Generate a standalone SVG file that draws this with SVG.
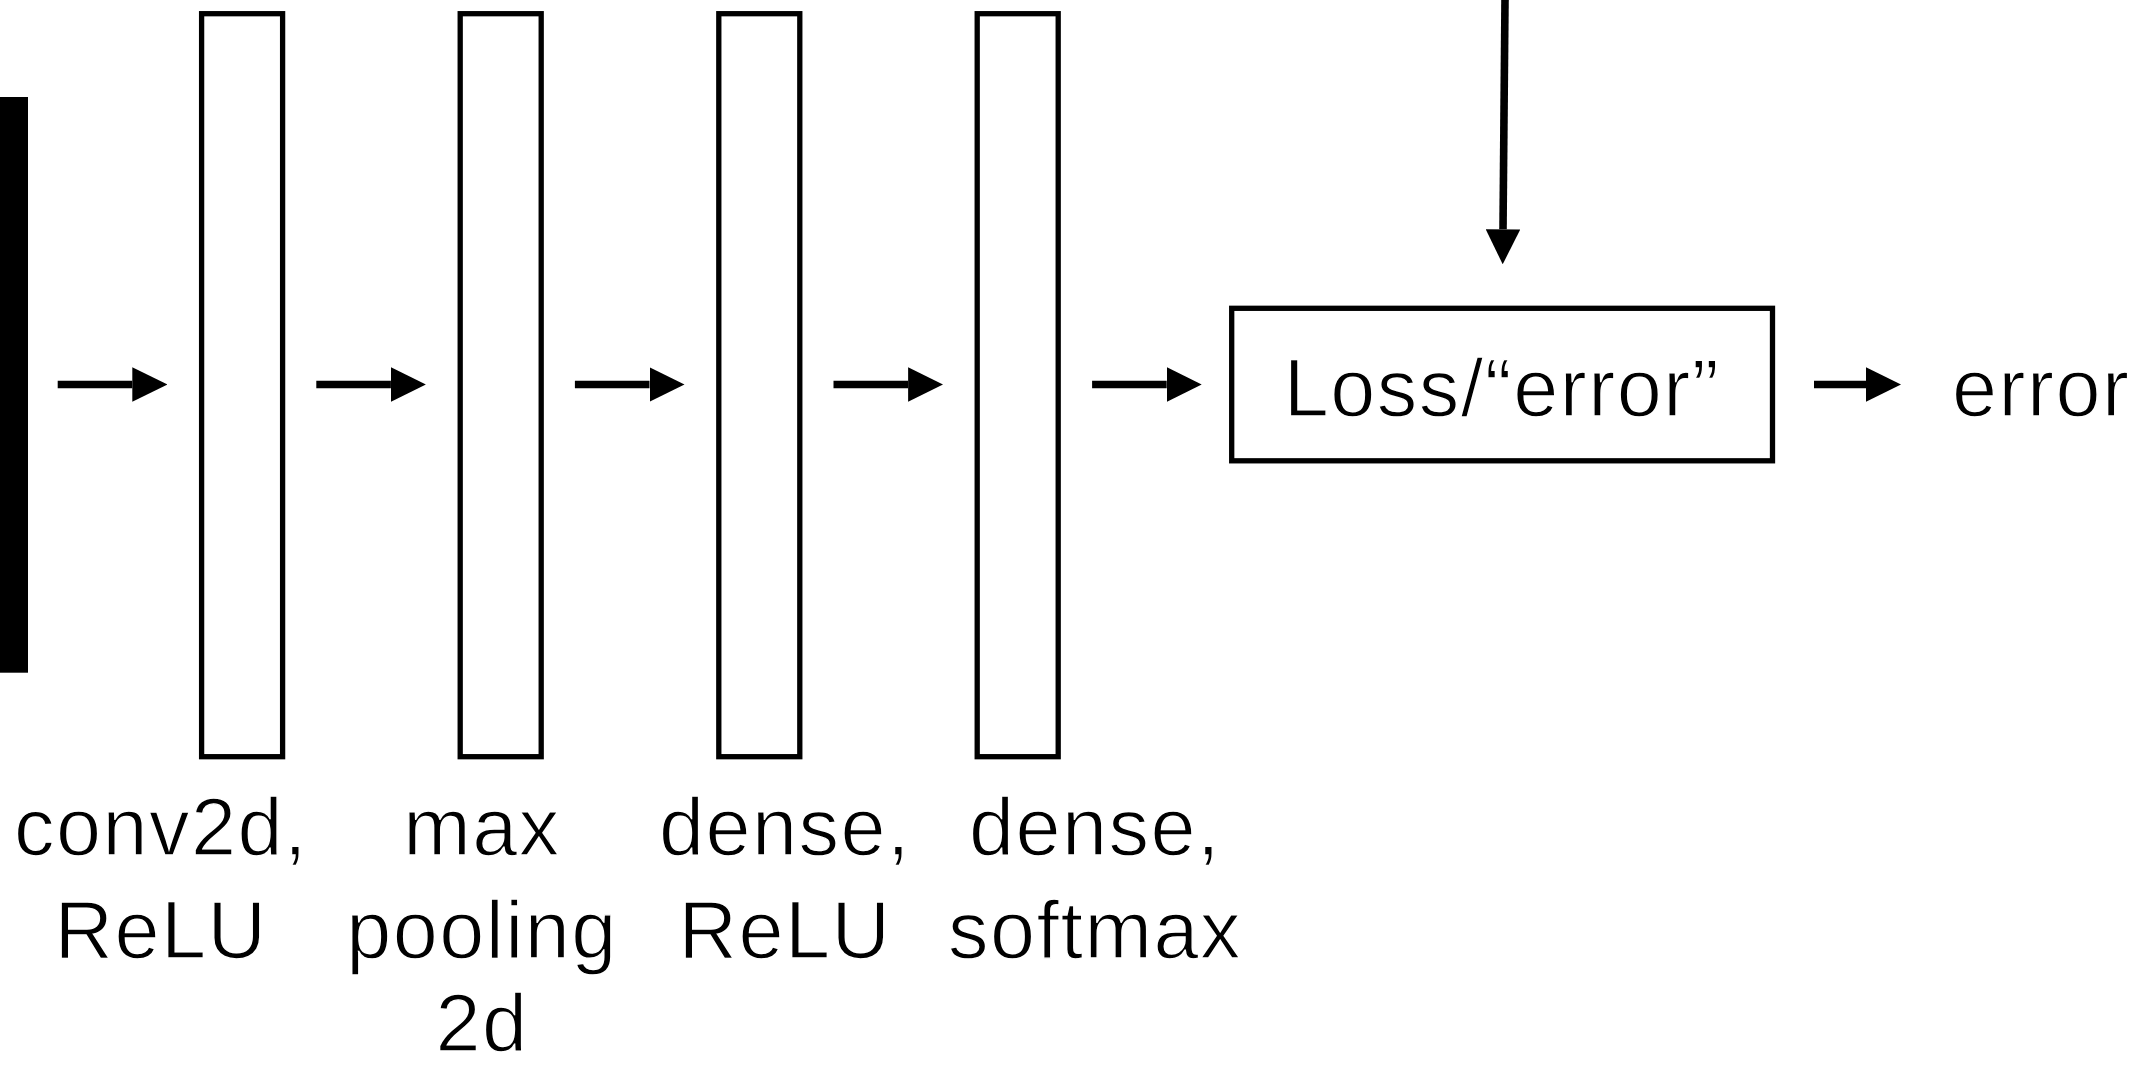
<svg xmlns="http://www.w3.org/2000/svg" width="2138" height="1068" viewBox="0 0 2138 1068">
<style>
  .layer { fill: #ffffff; stroke: #000000; stroke-width: 5.3; }
  .conn { stroke: #000000; stroke-width: 7.6; fill: none; marker-end: url(#head); }
  .lbl { font-family: "Liberation Sans", Arial, sans-serif; font-size: 81px; fill: #000000; text-anchor: middle; letter-spacing: 1.5px; stroke: #ffffff; stroke-width: 1.4px; }
</style>
<defs>
  <marker id="head" markerUnits="userSpaceOnUse" viewBox="0 0 35 34.6" markerWidth="35" markerHeight="34.6" refX="0" refY="17.3" orient="auto">
    <path d="M0,0 L35,17.3 L0,34.6 z" fill="#000000"/>
  </marker>
</defs>
<rect width="2138" height="1068" fill="#ffffff"/>

<g id="input">
  <rect x="0" y="97" width="28" height="575.7" fill="#000000"/>
</g>

<g id="layer-conv2d">
  <rect class="layer" x="201.6" y="13.7" width="81" height="743"/>
  <text class="lbl" x="161" y="855">conv2d,</text>
  <text class="lbl" x="161" y="958">ReLU</text>
</g>

<g id="layer-maxpool">
  <rect class="layer" x="460.2" y="13.7" width="81" height="743"/>
  <text class="lbl" x="482" y="855">max</text>
  <text class="lbl" x="482" y="958">pooling</text>
  <text class="lbl" x="482" y="1051">2d</text>
</g>

<g id="layer-dense-relu">
  <rect class="layer" x="718.8" y="13.7" width="81" height="743"/>
  <text class="lbl" x="785" y="855">dense,</text>
  <text class="lbl" x="785" y="958">ReLU</text>
</g>

<g id="layer-dense-softmax">
  <rect class="layer" x="977.2" y="13.7" width="81" height="743"/>
  <text class="lbl" x="1095" y="855">dense,</text>
  <text class="lbl" x="1095" y="958">softmax</text>
</g>

<g id="loss">
  <rect class="layer" x="1231.7" y="308.3" width="540.8" height="152.5"/>
  <text class="lbl" x="1502" y="416">Loss/“error”</text>
</g>

<g id="output">
  <text class="lbl" x="1952" y="416" style="text-anchor:start">error</text>
</g>

<g id="connectors">
  <line class="conn" x1="57.7" y1="384.5" x2="132.3" y2="384.5"/>
  <line class="conn" x1="316.3" y1="384.5" x2="390.9" y2="384.5"/>
  <line class="conn" x1="574.9" y1="384.5" x2="649.5" y2="384.5"/>
  <line class="conn" x1="833.5" y1="384.5" x2="908.1" y2="384.5"/>
  <line class="conn" x1="1092.1" y1="384.5" x2="1166.7" y2="384.5"/>
  <line class="conn" x1="1814" y1="384.5" x2="1866" y2="384.5"/>
  <line class="conn" x1="1505" y1="0" x2="1503" y2="229.3"/>
</g>
</svg>
